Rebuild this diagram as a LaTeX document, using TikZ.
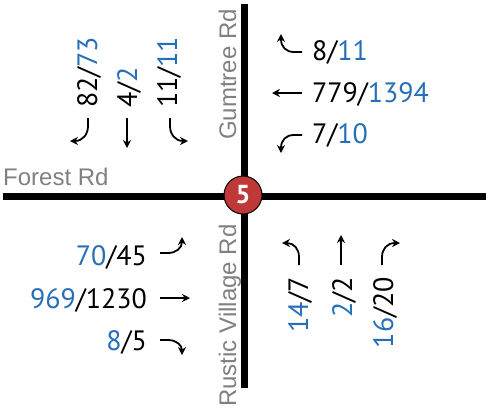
\documentclass[tikz,border=0pt]{standalone}
\usepackage{fontspec}
\setmainfont{Liberation Sans}
\newfontfamily\numfont{PT Sans}
\usetikzlibrary{arrows.meta}
\definecolor{vblue}{RGB}{38,110,184}
\definecolor{roadgray}{RGB}{128,128,128}
\definecolor{badgered}{RGB}{190,57,55}
\begin{document}
\begin{tikzpicture}[x=1pt,y=-1pt,
  road/.style={line width=7pt, black},
  roadname/.style={text=roadgray, font=\fontsize{24}{24}\selectfont, inner sep=0pt},
  vol/.style={font=\numfont\fontsize{28}{28}\selectfont, inner sep=0pt},
  mv/.style={line width=1.8pt, -{Stealth[length=8pt,width=8pt]}}
]
\useasboundingbox (0,0) rectangle (487,413);
\coordinate (w) at (3,196); \coordinate (e) at (486,196);
\coordinate (n) at (244,4); \coordinate (s) at (244,388);
\draw[road] (w) -- (e);
\draw[road] (n) -- (s);
\node[circle, fill=badgered, draw=black, line width=1pt, minimum size=38pt, inner sep=0pt, text=white, font=\numfont\bfseries\fontsize{26}{26}\selectfont] (badge) at (243,195) {5};
% road names
\node[roadname, anchor=base west] (forest) at (3,185) {Forest Rd};
\node[roadname, rotate=90, anchor=base west] (gumtree) at (236,140) {Gumtree Rd};
\node[roadname, rotate=90, anchor=base west] (rustic) at (236,407) {Rustic Village Rd};
% NE volumes
\node[vol, anchor=base west] (ne1) at (312,60) {8/\textcolor{vblue}{11}};
\node[vol, anchor=base west] (ne2) at (312,102) {779/\textcolor{vblue}{1394}};
\node[vol, anchor=base west] (ne3) at (312,143) {7/\textcolor{vblue}{10}};
% NW volumes
\node[vol, rotate=90, anchor=base west] (nw1) at (97,108) {82/\textcolor{vblue}{73}};
\node[vol, rotate=90, anchor=base west] (nw2) at (137,108) {4/\textcolor{vblue}{2}};
\node[vol, rotate=90, anchor=base west] (nw3) at (177,108) {11/\textcolor{vblue}{11}};
% SW volumes
\node[vol, anchor=base east] (sw1) at (147,265) {\textcolor{vblue}{70}/45};
\node[vol, anchor=base east] (sw2) at (147,308) {\textcolor{vblue}{969}/1230};
\node[vol, anchor=base east] (sw3) at (147,350) {\textcolor{vblue}{8}/5};
% SE volumes
\node[vol, rotate=90, anchor=base east] (se1) at (308,277) {\textcolor{vblue}{14}/7};
\node[vol, rotate=90, anchor=base east] (se2) at (352,277) {\textcolor{vblue}{2}/2};
\node[vol, rotate=90, anchor=base east] (se3) at (393,277) {\textcolor{vblue}{16}/20};
% NE arrows
\draw[mv] (302,52) -- (294,52) .. controls (286,52) and (281,47) .. (281,34);
\draw[mv] (302,93) -- (272,93);
\draw[mv] (302,135) -- (294,135) .. controls (286,135) and (281,140) .. (281,153);
% NW arrows
\draw[mv] (88,118) -- (88,126) .. controls (88,134) and (83,141) .. (70,141);
\draw[mv] (127,118) -- (127,148);
\draw[mv] (170,118) -- (170,126) .. controls (170,134) and (175,141) .. (188,141);
% SW arrows
\draw[mv] (160,253) -- (168,253) .. controls (176,253) and (182,248) .. (182,237);
\draw[mv] (160,298) -- (190,298);
\draw[mv] (160,340) -- (168,340) .. controls (176,340) and (182,345) .. (182,355);
% SE arrows
\draw[mv] (299,265) -- (299,257) .. controls (299,249) and (294,243) .. (282,243);
\draw[mv] (341,265) -- (341,235);
\draw[mv] (382,265) -- (382,257) .. controls (382,249) and (387,243) .. (400,243);
\end{tikzpicture}
\end{document}
